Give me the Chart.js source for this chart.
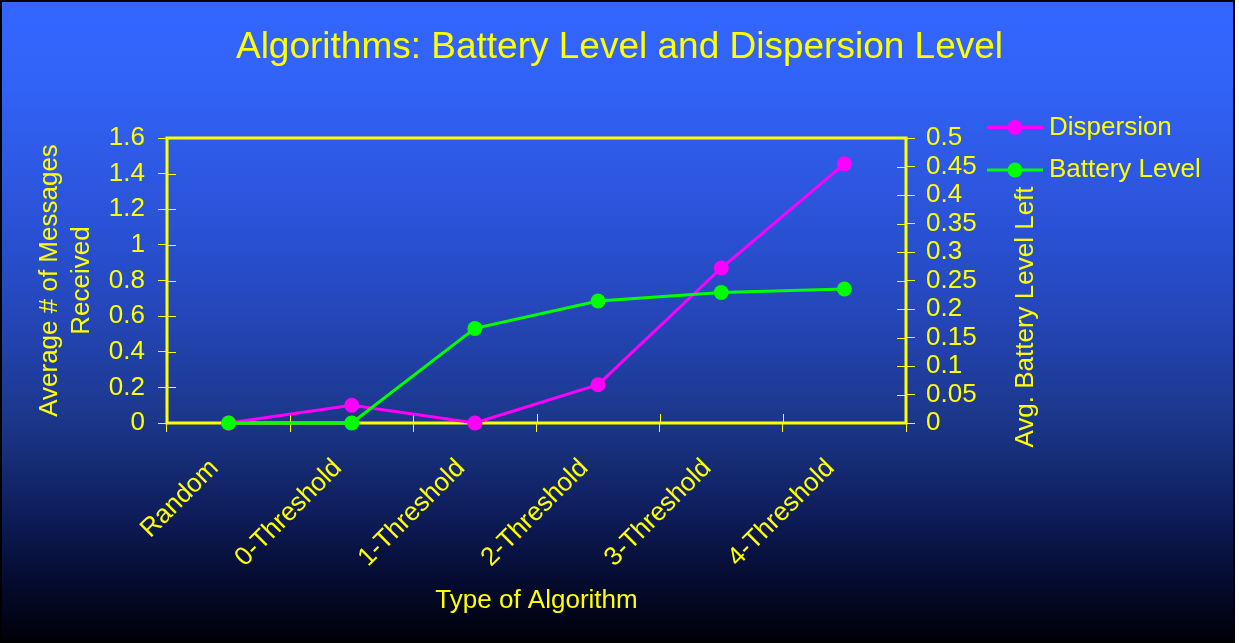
<!DOCTYPE html>
<html>
<head>
<meta charset="utf-8">
<script src="https://cdn.jsdelivr.net/npm/chart.js@4.4.1/dist/chart.umd.min.js"></script>
<style>
  html, body { margin: 0; padding: 0; background: #ffffff; overflow: hidden; }
  canvas { display: block; }
</style>
</head>
<body>
<canvas id="chart" width="1239" height="643"></canvas>
<script>
// Algorithm types along the x axis
const categories = ['Random', '0-Threshold', '1-Threshold', '2-Threshold', '3-Threshold', '4-Threshold'];

// Series values
const dispersion = [0, 0.1, 0, 0.215, 0.87, 1.455];        // left axis
const batteryLevel = [0, 0, 0.166, 0.214, 0.229, 0.235];   // right axis

// Tick values for both value axes
const messageTicks = [0, 0.2, 0.4, 0.6, 0.8, 1, 1.2, 1.4, 1.6];
const batteryTicks = [0, 0.05, 0.1, 0.15, 0.2, 0.25, 0.3, 0.35, 0.4, 0.45, 0.5];

// Text
const chartTitle = 'Algorithms: Battery Level and Dispersion Level';
const xTitle = 'Type of Algorithm';
const leftTitle = ['Average # of Messages', 'Received'];
const rightTitle = 'Avg. Battery Level Left';
const seriesNames = ['Dispersion', 'Battery Level'];

const YELLOW = '#ffff00';
const MAGENTA = '#ff00ff';
const GREEN = '#00ff00';
const FONT = "'Liberation Sans', Arial, Helvetica, sans-serif";

// Slide-style background: blue fading to black, with a thin dark frame
const backdrop = {
  id: 'backdrop',
  beforeDraw(chart) {
    const ctx = chart.ctx;
    const w = 1234, h = chart.height;
    ctx.save();
    ctx.fillStyle = '#ffffff';
    ctx.fillRect(0, 0, chart.width, h);
    const g = ctx.createLinearGradient(0, 0, 0, h);
    g.addColorStop(0.00, '#3366ff');
    g.addColorStop(0.12, '#3263f8');
    g.addColorStop(0.35, '#2a52d6');
    g.addColorStop(0.50, '#2445b6');
    g.addColorStop(0.66, '#1b3688');
    g.addColorStop(0.80, '#0e1d5a');
    g.addColorStop(0.90, '#050c30');
    g.addColorStop(1.00, '#000008');
    ctx.fillStyle = g;
    ctx.fillRect(0, 0, w, h);
    ctx.strokeStyle = '#000000';
    ctx.lineWidth = 2;
    ctx.strokeRect(1, 1, w - 1, h - 1);
    ctx.restore();
  }
};

// Plot frame and the inner halves of the tick marks
const plotFrame = {
  id: 'plotFrame',
  beforeDatasetsDraw(chart) {
    const ctx = chart.ctx;
    const a = chart.chartArea;
    const sx = chart.scales.x, sy = chart.scales.y, sy1 = chart.scales.y1;
    ctx.save();
    ctx.strokeStyle = YELLOW;
    ctx.lineWidth = 1;
    ctx.beginPath();
    for (const v of messageTicks) {
      const p = Math.round(sy.getPixelForValue(v)) + 0.5;
      ctx.moveTo(a.left, p); ctx.lineTo(a.left + 9, p);
    }
    for (const v of batteryTicks) {
      const p = Math.round(sy1.getPixelForValue(v)) + 0.5;
      ctx.moveTo(a.right - 9, p); ctx.lineTo(a.right, p);
    }
    for (let i = 0; i <= categories.length; i++) {
      const p = Math.round(sx.getPixelForValue(i - 0.5)) + 0.5;
      ctx.moveTo(p, a.bottom - 9); ctx.lineTo(p, a.bottom);
    }
    ctx.stroke();
    ctx.lineWidth = 3;
    ctx.strokeRect(a.left, a.top, a.right - a.left, a.bottom - a.top);
    ctx.restore();
  }
};

// Right axis title and the line-and-marker legend
const sideText = {
  id: 'sideText',
  afterDraw(chart) {
    const ctx = chart.ctx;
    ctx.save();
    ctx.fillStyle = YELLOW;
    ctx.font = '26px ' + FONT;
    ctx.textAlign = 'center';
    ctx.textBaseline = 'middle';
    ctx.translate(1026, 317);
    ctx.rotate(-Math.PI / 2);
    ctx.fillText(rightTitle, 0, 0);
    ctx.restore();

    const rows = [127.5, 170];
    chart.data.datasets.forEach((ds, i) => {
      const y = rows[i];
      ctx.save();
      ctx.strokeStyle = ds.borderColor;
      ctx.lineWidth = 3;
      ctx.beginPath();
      ctx.moveTo(987, y); ctx.lineTo(1043, y);
      ctx.stroke();
      ctx.fillStyle = ds.pointBackgroundColor;
      ctx.beginPath();
      ctx.arc(1015, y, 7.5, 0, Math.PI * 2);
      ctx.fill();
      ctx.fillStyle = YELLOW;
      ctx.font = '26px ' + FONT;
      ctx.textAlign = 'left';
      ctx.textBaseline = 'middle';
      ctx.fillText(ds.label, 1049, y);
      ctx.restore();
    });
  }
};

new Chart(document.getElementById('chart'), {
  type: 'line',
  data: {
    labels: categories,
    datasets: [
      {
        label: seriesNames[0],
        data: dispersion,
        yAxisID: 'y',
        borderColor: MAGENTA,
        backgroundColor: MAGENTA,
        pointBackgroundColor: MAGENTA,
        pointBorderColor: MAGENTA,
        borderWidth: 3,
        pointRadius: 7.5,
        pointBorderWidth: 0,
        tension: 0,
        clip: false,
        order: 2
      },
      {
        label: seriesNames[1],
        data: batteryLevel,
        yAxisID: 'y1',
        borderColor: GREEN,
        backgroundColor: GREEN,
        pointBackgroundColor: GREEN,
        pointBorderColor: GREEN,
        borderWidth: 3,
        pointRadius: 7.5,
        pointBorderWidth: 0,
        tension: 0,
        clip: false,
        order: 1
      }
    ]
  },
  options: {
    responsive: false,
    animation: false,
    devicePixelRatio: 1,
    layout: { padding: 0 },
    plugins: {
      legend: { display: false },
      tooltip: { enabled: false },
      title: {
        display: true,
        text: chartTitle,
        color: YELLOW,
        font: { family: FONT, size: 37, weight: 'normal', lineHeight: 1.2 },
        padding: { top: 26, bottom: 67.6 }
      }
    },
    scales: {
      x: {
        type: 'category',
        offset: true,
        grid: { offset: true, drawOnChartArea: false, drawTicks: true, tickLength: 9, color: YELLOW, lineWidth: 1 },
        border: { display: false },
        ticks: {
          color: YELLOW,
          font: { family: FONT, size: 26 },
          minRotation: 45,
          maxRotation: 45,
          autoSkip: false,
          labelOffset: -14,
          padding: 21
        },
        title: {
          display: true,
          text: xTitle,
          color: YELLOW,
          font: { family: FONT, size: 26 },
          padding: { top: 0, bottom: 27 }
        },
        afterFit(s) { s.height = 220; }
      },
      y: {
        position: 'left',
        min: 0,
        max: 1.6,
        afterBuildTicks(s) { s.ticks = messageTicks.map(v => ({ value: v })); },
        grid: { drawOnChartArea: false, drawTicks: true, tickLength: 9, color: YELLOW, lineWidth: 1 },
        border: { display: false },
        ticks: {
          color: YELLOW,
          font: { family: FONT, size: 26 },
          padding: 13,
          autoSkip: false,
          callback: v => String(v)
        },
        title: {
          display: true,
          text: leftTitle,
          color: YELLOW,
          font: { family: FONT, size: 26, lineHeight: '32px' },
          padding: { top: 34, bottom: 0 }
        },
        afterFit(s) { s.width = 167; }
      },
      y1: {
        position: 'right',
        min: 0,
        max: 0.5,
        afterBuildTicks(s) { s.ticks = batteryTicks.map(v => ({ value: v })); },
        grid: { drawOnChartArea: false, drawTicks: true, tickLength: 9, color: YELLOW, lineWidth: 1 },
        border: { display: false },
        ticks: {
          color: YELLOW,
          font: { family: FONT, size: 26 },
          padding: 11,
          autoSkip: false,
          callback: v => String(v)
        },
        afterFit(s) { s.width = 333; }
      }
    }
  },
  plugins: [backdrop, plotFrame, sideText]
});
</script>
</body>
</html>
